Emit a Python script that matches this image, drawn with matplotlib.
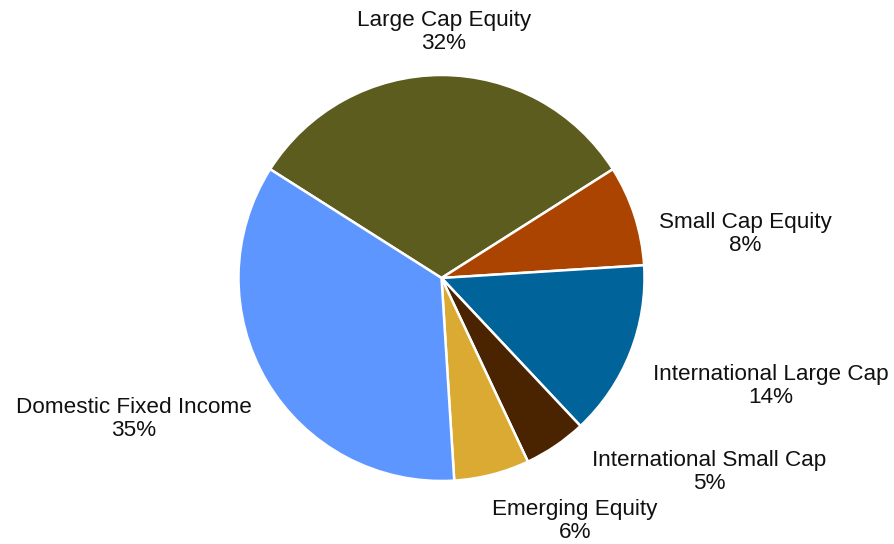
import matplotlib
matplotlib.use("Agg")
import matplotlib.pyplot as plt

# Asset allocation
categories = [
    "Large Cap Equity",
    "Small Cap Equity",
    "International Large Cap",
    "International Small Cap",
    "Emerging Equity",
    "Domestic Fixed Income",
]
shares = [32, 8, 14, 5, 6, 35]
colors = ["#5C5C1F", "#AA4400", "#006399", "#4A2400", "#DAAA33", "#5E96FF"]

# label anchor points (figure pixels from the top-left corner)
label_xy = [
    (444, 32),
    (745, 234),
    (771, 386),
    (709, 472),
    (575, 521),
    (134, 419),
]

W, H = 894, 544
plt.rcParams["font.family"] = ["Liberation Sans", "DejaVu Sans"]

fig = plt.figure(figsize=(W / 100, H / 100), dpi=100)
ax = fig.add_axes([0, 0, 1, 1])

ax.pie(
    shares,
    colors=colors,
    startangle=147.6,
    counterclock=False,
    center=(441.5, H - 278),
    radius=203,
    wedgeprops=dict(edgecolor="white", linewidth=1.8),
    frame=True,
)
ax.set_xlim(0, W)
ax.set_ylim(0, H)
ax.set_aspect("equal")
ax.axis("off")

for name, val, (x, y) in zip(categories, shares, label_xy):
    ax.text(x, H - y, f"{name}\n{val}%", ha="center", va="center",
            multialignment="center", fontsize=16.2, color="#111111",
            linespacing=1.12)

fig.savefig("out.png", dpi=100)
